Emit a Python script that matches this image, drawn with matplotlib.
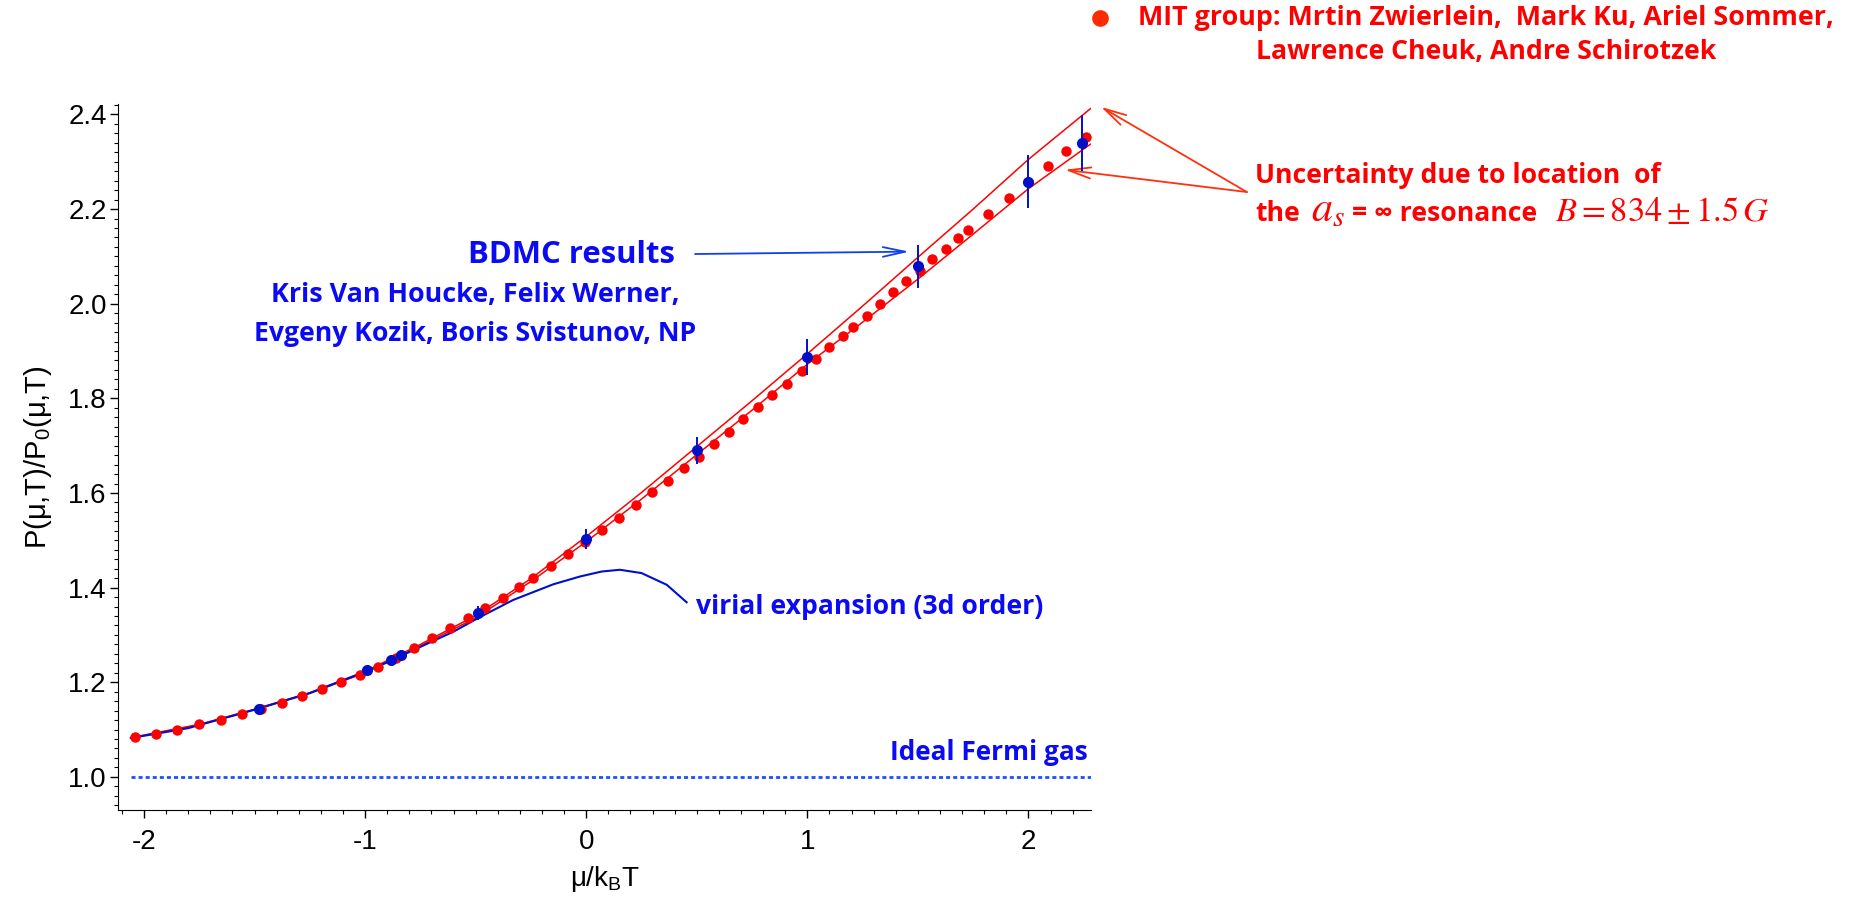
import matplotlib.pyplot as plt
from matplotlib.lines import Line2D
from matplotlib.ticker import MultipleLocator, FormatStrFormatter

plt.rcParams['font.family'] = ['Liberation Sans', 'DejaVu Sans']
plt.rcParams['axes.unicode_minus'] = False
plt.rcParams['mathtext.fontset'] = 'custom'
plt.rcParams['mathtext.rm'] = 'Liberation Sans'
plt.rcParams['mathtext.it'] = 'Liberation Sans:italic'

mit_x = [-2.042, -1.945, -1.850, -1.753, -1.651, -1.555, -1.470, -1.376, -1.284, -1.197,
         -1.110, -1.024, -0.942, -0.859, -0.781, -0.698, -0.616, -0.535, -0.458, -0.378,
         -0.302, -0.239, -0.160, -0.081, -0.006, 0.072, 0.149, 0.225, 0.299, 0.371,
         0.443, 0.511, 0.579, 0.647, 0.710, 0.778, 0.842, 0.907, 0.974, 1.038,
         1.099, 1.162, 1.208, 1.268, 1.328, 1.389, 1.446, 1.509, 1.565, 1.625,
         1.682, 1.725, 1.818, 1.912, 2.000, 2.087, 2.170, 2.260]
mit_y = [1.085, 1.091, 1.100, 1.111, 1.121, 1.133, 1.144, 1.157, 1.170, 1.186,
         1.200, 1.216, 1.232, 1.251, 1.272, 1.294, 1.314, 1.335, 1.356, 1.379,
         1.402, 1.421, 1.445, 1.471, 1.496, 1.522, 1.548, 1.574, 1.601, 1.626,
         1.652, 1.677, 1.703, 1.729, 1.756, 1.781, 1.806, 1.831, 1.857, 1.883,
         1.908, 1.932, 1.951, 1.975, 2.000, 2.024, 2.048, 2.070, 2.095, 2.116,
         2.139, 2.156, 2.190, 2.223, 2.257, 2.290, 2.322, 2.353]

# BDMC results with error bars
bdmc_x = [-1.48, -0.99, -0.885, -0.84, -0.49, 0.0, 0.5, 1.0, 1.5, 2.0, 2.24]
bdmc_y = [1.144, 1.226, 1.247, 1.258, 1.346, 1.503, 1.690, 1.888, 2.079, 2.258, 2.339]
bdmc_err = [0.004, 0.005, 0.005, 0.010, 0.015, 0.021, 0.028, 0.038, 0.046, 0.056, 0.059]

# virial expansion (3rd order)
vir_x = [-2.06, -1.8, -1.5, -1.25, -1.0, -0.9, -0.8, -0.698, -0.6, -0.488, -0.33,
         -0.149, -0.028, 0.07, 0.152, 0.25, 0.364, 0.454]
vir_y = [1.082, 1.103, 1.142, 1.177, 1.222, 1.242, 1.264, 1.286, 1.307, 1.336, 1.374,
         1.407, 1.4235, 1.434, 1.4377, 1.4307, 1.406, 1.369]

# uncertainty band from resonance location
band_x = [-2.06, -1.75, -1.5, -1.25, -1.0, -0.75, -0.5, -0.25, 0.0, 0.25, 0.5,
          0.75, 1.0, 1.25, 1.5, 1.75, 2.0, 2.28]
band_hi = [1.083, 1.111, 1.143, 1.178, 1.223, 1.280, 1.341, 1.419, 1.508, 1.601, 1.698,
           1.795, 1.894, 1.995, 2.098, 2.200, 2.305, 2.412]
band_lo = [1.082, 1.110, 1.142, 1.177, 1.220, 1.277, 1.336, 1.413, 1.497, 1.587, 1.681,
           1.775, 1.872, 1.961, 2.052, 2.147, 2.243, 2.337]

ideal_ratio = 1.0

red = '#FF0000'
blue_txt = '#0A0AF5'
blue_dat = '#0010C8'
arrow_red = '#FF3010'
ann_font = ['Open Sans', 'DejaVu Sans']

fig = plt.figure(figsize=(18.52, 8.99), dpi=100)
ax = fig.add_axes([0.0637, 0.0990, 0.5254, 0.7853])


def fit_width(t, width_px):
    # scale font so the text spans the same width as in the reference
    r = fig.canvas.get_renderer()
    for _ in range(2):
        w = t.get_window_extent(renderer=r).width
        t.set_fontsize(t.get_fontsize() * width_px / w)


ax.axhline(ideal_ratio, xmin=0.013, xmax=1.0, color='#1E50FF', lw=2.0,
           dashes=(1.45, 1.1))
ax.plot(band_x, band_hi, color=red, lw=1.1, zorder=2)
ax.plot(band_x, band_lo, color=red, lw=1.1, zorder=2)
ax.plot(vir_x, vir_y, color=blue_dat, lw=1.5, zorder=3)
ax.plot(mit_x, mit_y, 'o', color=red, ms=7.5, mec='none', zorder=4)
ax.errorbar(bdmc_x, bdmc_y, yerr=bdmc_err, fmt='o', color=blue_dat, ms=8,
            mec='none', elinewidth=1.4, capsize=0, zorder=5)

ax.set_xlim(-2.118, 2.283)
ax.set_ylim(0.930, 2.422)
for s in ['top', 'right']:
    ax.spines[s].set_visible(False)

ax.set_xticks([-2, -1, 0, 1, 2])
ax.xaxis.set_minor_locator(MultipleLocator(0.1))
ax.set_yticks([1.0, 1.2, 1.4, 1.6, 1.8, 2.0, 2.2, 2.4])
ax.yaxis.set_major_formatter(FormatStrFormatter('%.1f'))
ax.yaxis.set_minor_locator(MultipleLocator(0.02))
ax.tick_params(which='major', direction='out', length=6, width=1, labelsize=20)
ax.tick_params(axis='x', which='major', pad=8)
ax.tick_params(axis='y', which='major', pad=2)
ax.tick_params(which='minor', direction='out', length=3, width=0.8)

ax.set_xlabel(r'μ/k$_\mathrm{B}$T', fontsize=20, labelpad=6)
ax.set_ylabel(r'P(μ,T)/P$_0$(μ,T)', fontsize=21, labelpad=10)

txt = dict(weight='bold', family=ann_font)

# BDMC annotation
t = ax.text(-0.065, 2.103, 'BDMC results', ha='center', va='center', fontsize=23,
            color=blue_txt, **txt)
fit_width(t, 207)
t = ax.text(-0.504, 2.0175, 'Kris Van Houcke, Felix Werner,', ha='center', va='center',
            fontsize=18, color=blue_txt, **txt)
fit_width(t, 409)
t = ax.text(-0.504, 1.937, 'Evgeny Kozik, Boris Svistunov, NP', ha='center', va='center',
            fontsize=18, color=blue_txt, **txt)
fit_width(t, 442)
ax.annotate('', xy=(1.461, 2.110), xytext=(0.492, 2.105),
            arrowprops=dict(arrowstyle='->,head_length=1.6,head_width=0.35',
                            color='#1040F0', lw=1.3, shrinkA=0, shrinkB=0,
                            mutation_scale=10))

t = ax.text(0.496, 1.359, 'virial expansion (3d order)', ha='left', va='center',
            fontsize=18, color=blue_txt, **txt)
fit_width(t, 348)
t = ax.text(2.270, 1.051, 'Ideal Fermi gas', ha='right', va='center',
            fontsize=19, color=blue_txt, **txt)
fit_width(t, 198)

# uncertainty annotation
for tip in [(2.328, 2.416), (2.165, 2.283)]:
    ax.annotate('', xy=tip, xytext=(2.988, 2.236), annotation_clip=False,
                arrowprops=dict(arrowstyle='->,head_length=1.6,head_width=0.4',
                                color=arrow_red, lw=1.3, shrinkA=0, shrinkB=0,
                                mutation_scale=10))
t1 = fig.text(0.6776, 0.8053, 'Uncertainty due to location  of', ha='left',
              va='center', fontsize=20, color=red, **txt)
fit_width(t1, 405)
fs1 = t1.get_fontsize()
base2 = 1 - 221 / 899
fig.text(1255 / 1852, base2, 'the', ha='left', va='baseline', fontsize=fs1,
         color=red, **txt)
t = fig.text(1311 / 1852, base2, r'$a_s$', ha='left', va='baseline', fontsize=fs1,
             color=red, math_fontfamily='stix')
fit_width(t, 34)
fig.text(1352 / 1852, base2, '= ∞ resonance', ha='left', va='baseline', fontsize=fs1,
         color=red, **txt)
t = fig.text(1555 / 1852, base2, r'$B = 834 \pm 1.5\,G$', ha='left', va='baseline',
             fontsize=fs1, color=red, math_fontfamily='stix')
fit_width(t, 214)

# MIT legend
fig.add_artist(Line2D([0.5940], [0.980], marker='o', ms=12, color='#FF2A00',
                      mec='none', transform=fig.transFigure))
t = fig.text(0.8024, 0.980, 'MIT group: Mrtin Zwierlein,  Mark Ku, Ariel Sommer,',
             ha='center', va='center', fontsize=18, color=red, **txt)
fit_width(t, 697)
t = fig.text(0.8024, 0.942, 'Lawrence Cheuk, Andre Schirotzek', ha='center', va='center',
             fontsize=18, color=red, **txt)
fit_width(t, 458)

fig.savefig('out.png', dpi=100)
